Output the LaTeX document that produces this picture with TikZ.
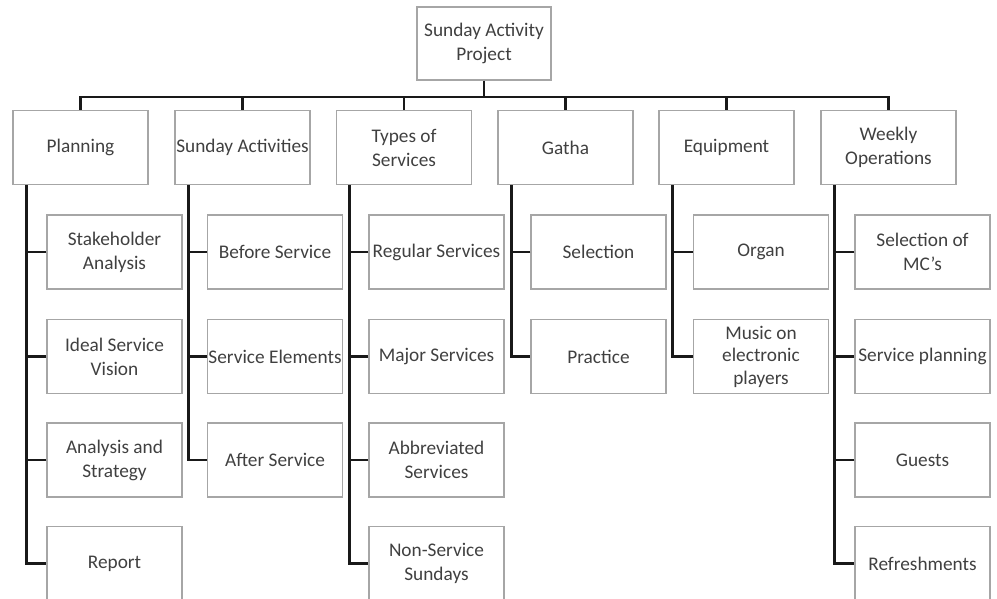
\documentclass[tikz,border=0pt]{standalone}
\usepackage{fontspec}
\setmainfont{Carlito}
\begin{document}
\begin{tikzpicture}[x=1pt,y=-1pt,
  box/.style={draw=black!35,line width=1.3pt,minimum width=135pt,minimum height=74pt,
    inner sep=1pt,align=center,text=black!75,font=\fontsize{19.3}{24}\selectfont},
  conn/.style={line width=2.9pt,black!90,line cap=butt}]
\useasboundingbox (0,0) rectangle (997,599);
% root
\node[box,minimum width=134pt,minimum height=73pt] (root) at (484,43.5) {Sunday Activity\\Project};
% level 1
\node[box] (p1) at (80.5,147.5) {Planning};
\node[box] (p2) at (242.5,147.5) {Sunday Activities};
\node[box] (p3) at (404,147.5) {Types of\\Services};
\node[box] (p4) at (565.5,147.5) {Gatha};
\node[box] (p5) at (726.5,147.5) {Equipment};
\node[box] (p6) at (888.5,147.5) {Weekly\\Operations};
% children
\node[box] (a1) at (114.5,252) {Stakeholder\\Analysis};
\node[box] (a2) at (114.5,356.5) {Ideal Service\\Vision};
\node[box] (a3) at (114.5,460) {Analysis and\\Strategy};
\node[box] (a4) at (114.5,563.5) {Report};
\node[box] (b1) at (275,252) {Before Service};
\node[box] (b2) at (275,356.5) {Service Elements};
\node[box] (b3) at (275,460) {After Service};
\node[box] (c1) at (436.5,252) {Regular Services};
\node[box] (c2) at (436.5,356.5) {Major Services};
\node[box] (c3) at (436.5,460) {Abbreviated\\Services};
\node[box] (c4) at (436.5,563.5) {Non-Service\\Sundays};
\node[box] (d1) at (598.5,252) {Selection};
\node[box] (d2) at (598.5,356.5) {Practice};
\node[box] (e1) at (761,252) {Organ};
\node[box,font=\fontsize{19.3}{22.5}\selectfont] (e2) at (761,356.5) {Music on\\electronic\\players};
\node[box] (f1) at (922.5,252) {Selection of\\MC's};
\node[box] (f2) at (922.5,356.5) {Service planning};
\node[box] (f3) at (922.5,460) {Guests};
\node[box] (f4) at (922.5,563.5) {Refreshments};
% bus
\coordinate (bus) at (484,97);
\draw[conn] (root.south) -- (bus);
\draw[conn] (p1.north) -- (p1.north |- bus) -- (p6.north |- bus) -- (p6.north);
\foreach \p in {p2,p3,p4,p5}{\draw[conn] (\p.north) -- (\p.north |- bus);}
% spines
\draw[conn] ([xshift=14pt]p1.south west) |- (a4.west);
\foreach \c in {a1,a2,a3}{\draw[conn] (\c.west) -- ++(-20,0);}
\draw[conn] ([xshift=14pt]p2.south west) |- (b3.west);
\foreach \c in {b1,b2}{\draw[conn] (\c.west) -- ++(-20,0);}
\draw[conn] ([xshift=14pt]p3.south west) |- (c4.west);
\foreach \c in {c1,c2,c3}{\draw[conn] (\c.west) -- ++(-20,0);}
\draw[conn] ([xshift=14pt]p4.south west) |- (d2.west);
\draw[conn] (d1.west) -- ++(-20,0);
\draw[conn] ([xshift=14pt]p5.south west) |- (e2.west);
\draw[conn] (e1.west) -- ++(-20,0);
\draw[conn] ([xshift=14pt]p6.south west) |- (f4.west);
\foreach \c in {f1,f2,f3}{\draw[conn] (\c.west) -- ++(-20,0);}
\end{tikzpicture}
\end{document}
